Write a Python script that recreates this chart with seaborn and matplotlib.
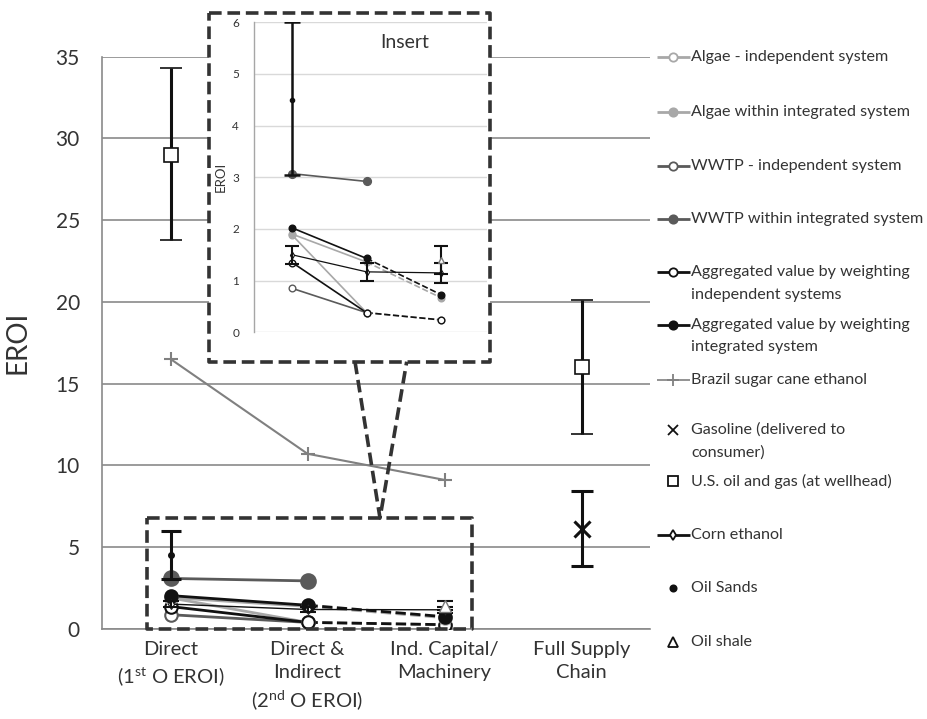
import matplotlib
matplotlib.use("Agg")
import matplotlib.pyplot as plt
import seaborn as sns
import numpy as np

# ---------------- data ----------------
categories = ["Direct\n(1$^{\\mathregular{st}}$ O EROI)",
              "Direct &\nIndirect\n(2$^{\\mathregular{nd}}$ O EROI)",
              "Ind. Capital/\nMachinery",
              "Full Supply\nChain"]
main_yticks = [0, 5, 10, 15, 20, 25, 30, 35]
inset_yticks = [0, 1, 2, 3, 4, 5, 6]

algae_indep = [1.88, 0.38, 0.24]
algae_integ = [1.90, 1.36, 0.67]
wwtp_indep = [0.85, 0.38]
wwtp_integ = [3.07, 2.92]
agg_indep = [1.35, 0.38, 0.24]
agg_integ = [2.02, 1.43, 0.73]
corn = [1.50, 1.17, 1.15]
corn_err = [0.18, 0.17, 0.19]
brazil = [16.5, 10.7, 9.1]
oil_sands_x, oil_sands_y = [0], [4.5]
oil_sands_err_lo, oil_sands_err_hi = [1.45], [1.5]
oil_shale_x, oil_shale_y, oil_shale_err = [2], [1.40], [0.27]
us_oil_x, us_oil_y = [0, 3], [29.0, 16.0]
us_oil_err_lo, us_oil_err_hi = [5.2, 4.1], [5.3, 4.1]
gasoline_x, gasoline_y = [3], [6.1]
gasoline_err_lo, gasoline_err_hi = [2.25], [2.35]

legend_labels = ["Algae - independent system", "Algae within integrated system",
                 "WWTP - independent system", "WWTP within integrated system",
                 "Aggregated value by weighting\nindependent systems",
                 "Aggregated value by weighting\nintegrated system",
                 "Brazil sugar cane ethanol", "Gasoline (delivered to\nconsumer)",
                 "U.S. oil and gas (at wellhead)", "Corn ethanol", "Oil Sands", "Oil shale"]

# ---------------- style ----------------
sns.set_theme(style="white")
plt.rcParams['font.family'] = ['Lato', 'DejaVu Sans']
plt.rcParams['mathtext.fontset'] = 'custom'
plt.rcParams['mathtext.rm'] = 'Lato'

LIGHT = "#a8a8a8"
DARK = "#5a5a5a"
BLACK = "#111111"
BRAZ = "#808080"
GRID = "#8a8a8a"
TXT = "#333333"

W, H = 928, 719
fig = plt.figure(figsize=(W / 100, H / 100), dpi=100)


def fx(px):
    return px / W


def fy(py):
    return 1 - py / H


# main axes
ax = fig.add_axes([fx(102), fy(628.6), fx(650) - fx(102), fy(56.7) - fy(628.6)])
ax.set_xlim(-0.5, 3.5)
ax.set_ylim(0, 35)
ax.set_yticks(main_yticks)
ax.set_xticks(range(len(categories)))
ax.set_xticklabels(categories, fontsize=14.5, color=TXT, linespacing=1.4)
ax.tick_params(axis='x', length=0, pad=9)
ax.tick_params(axis='y', length=5, width=1.2, color=GRID, labelsize=15, labelcolor=TXT, pad=11)
ax.yaxis.grid(True, color=GRID, lw=1.2)
ax.set_axisbelow(True)
for s in ['top', 'right']:
    ax.spines[s].set_visible(False)
ax.spines['left'].set_color(GRID)
ax.spines['left'].set_linewidth(1.2)
ax.spines['bottom'].set_color(GRID)
ax.spines['bottom'].set_linewidth(1.2)
ax.set_ylabel("EROI", fontsize=20, color=TXT, labelpad=18)


def draw_series(a, vals, color, filled, ms, lw, mew, z=3):
    x = list(range(len(vals)))
    sns.lineplot(x=x[:2], y=vals[:2], ax=a, color=color, lw=lw, linestyle='-', zorder=z)
    if len(vals) > 2:
        sns.lineplot(x=x[1:], y=vals[1:], ax=a, color=color, lw=lw, linestyle='--', zorder=z)
    a.plot(x, vals, linestyle='none', marker='o', markersize=ms,
           markerfacecolor=(color if filled else 'white'), markeredgecolor=color,
           markeredgewidth=mew, zorder=z + 0.5)


def draw_all(a, big):
    lw = 2.0 if big else 1.2
    ms = 9 if big else 4.8
    mew = 1.5 if big else 1.0
    if big:
        sns.lineplot(x=list(range(len(brazil))), y=brazil, ax=a, color=BRAZ, lw=1.5,
                     marker='+', markersize=10, markeredgecolor=BRAZ, markeredgewidth=1.5, zorder=3)
    draw_series(a, wwtp_indep, DARK, False, ms, lw, mew)
    draw_series(a, algae_indep, LIGHT, False, ms, lw, mew)
    draw_series(a, agg_indep, BLACK, False, ms, lw, mew)
    draw_series(a, algae_integ, LIGHT, True, ms, lw, mew)
    draw_series(a, agg_integ, BLACK, True, ms, lw, mew)
    draw_series(a, wwtp_integ, DARK, True, ms + (1.5 if big else 0.8), lw, mew)
    # corn ethanol
    sns.lineplot(x=list(range(len(corn))), y=corn, ax=a, color=BLACK, lw=1.0 if big else 0.9,
                 marker='d', markersize=5 if big else 3.5, markerfacecolor='white',
                 markeredgecolor=BLACK, markeredgewidth=0.8, zorder=4)
    a.errorbar(range(len(corn)), corn, yerr=corn_err, fmt='none', ecolor=BLACK,
               elinewidth=1.5, capsize=6 if big else 5, capthick=1.5, zorder=4)
    # oil sands
    a.errorbar(oil_sands_x, oil_sands_y, yerr=[oil_sands_err_lo, oil_sands_err_hi], fmt='o',
               color=BLACK, markersize=4 if big else 3, elinewidth=2.2 if big else 1.8,
               capsize=7 if big else 6, capthick=2.2 if big else 1.8, zorder=5)
    # oil shale
    a.errorbar(oil_shale_x, oil_shale_y, yerr=oil_shale_err, fmt='^', color=BLACK,
               markerfacecolor='white', markeredgecolor='#777777', markersize=8 if big else 4.5,
               elinewidth=1.5, capsize=6 if big else 5, capthick=1.5, zorder=5)


draw_all(ax, True)

# US oil and gas
ax.errorbar(us_oil_x, us_oil_y, yerr=[us_oil_err_lo, us_oil_err_hi], fmt='s', color=BLACK,
            markerfacecolor='white', markeredgecolor=BLACK, markeredgewidth=1.2, markersize=10,
            elinewidth=2.2, capsize=8, capthick=2.2, zorder=5)
# gasoline
ax.errorbar(gasoline_x, gasoline_y, yerr=[gasoline_err_lo, gasoline_err_hi], fmt='x', color=BLACK,
            markersize=11, markeredgewidth=2.2, elinewidth=2.2, capsize=8, capthick=2.2, zorder=5)

# ---------------- inset ----------------
bg = fig.add_axes([fx(209), fy(361.7), fx(490) - fx(209), fy(12.7) - fy(361.7)], zorder=2)
bg.set_facecolor('white')
bg.set_xticks([]); bg.set_yticks([])
for s in bg.spines.values():
    s.set_visible(False)

ins = fig.add_axes([fx(254.3), fy(332.3), fx(487) - fx(254.3), fy(22.3) - fy(332.3)], zorder=3)
ins.set_facecolor('none')
ins.set_xlim(-0.51, 2.62)
ins.set_ylim(0, 6)
ins.set_yticks(inset_yticks)
ins.set_xticks([])
ins.yaxis.grid(True, color="#d9d9d9", lw=1.0)
ins.set_axisbelow(True)
for s in ['top', 'right', 'bottom']:
    ins.spines[s].set_visible(False)
ins.spines['left'].set_color("#a6a6a6")
ins.spines['left'].set_linewidth(1.0)
ins.tick_params(axis='y', length=0, labelsize=8.5, labelcolor=TXT, pad=11)
ins.set_ylabel("EROI", fontsize=9.5, color=TXT, labelpad=4)
draw_all(ins, False)
ins.text(0.645, 0.935, "Insert", transform=ins.transAxes, fontsize=14, color=TXT, ha='center', va='center')

# ---------------- overlay: boxes, connectors, legend ----------------
ov = fig.add_axes([0, 0, 1, 1], zorder=10)
ov.set_xlim(0, W)
ov.set_ylim(H, 0)
ov.axis('off')
dash = dict(color='#333333', lw=2.6, linestyle=(0, (3.5, 1.6)))
ov.plot([209, 490, 490, 209, 209], [12.7, 12.7, 361.7, 361.7, 12.7], **dash)
ov.plot([147, 472, 472, 147, 147], [518, 518, 629, 629, 518], **dash)
ov.plot([355, 380, 406.7], [361.7, 518, 361.7], **dash)

leg_y = [57, 112, 166, 219, 272, 325, 380, 430, 481, 535, 588, 642]
styles = [
    dict(line=LIGHT, marker='o', mfc='white', mec=LIGHT, ms=6),
    dict(line=LIGHT, marker='o', mfc=LIGHT, mec=LIGHT, ms=6),
    dict(line=DARK, marker='o', mfc='white', mec=DARK, ms=6),
    dict(line=DARK, marker='o', mfc=DARK, mec=DARK, ms=6),
    dict(line=BLACK, marker='o', mfc='white', mec=BLACK, ms=6),
    dict(line=BLACK, marker='o', mfc=BLACK, mec=BLACK, ms=6),
    dict(line=BRAZ, marker='+', mfc=BRAZ, mec=BRAZ, ms=8, lw=1.2),
    dict(line=None, marker='x', mfc=BLACK, mec=BLACK, ms=7),
    dict(line=None, marker='s', mfc='white', mec=BLACK, ms=7),
    dict(line=BLACK, marker='d', mfc='white', mec=BLACK, ms=5),
    dict(line=None, marker='o', mfc=BLACK, mec=BLACK, ms=4.5),
    dict(line=None, marker='^', mfc='white', mec=BLACK, ms=7),
]
for y, lab, st in zip(leg_y, legend_labels, styles):
    if st['line'] is not None:
        ov.plot([657, 690], [y, y], color=st['line'], lw=st.get('lw', 2.0), solid_capstyle='butt')
    ov.plot([673], [y], marker=st['marker'], markersize=st['ms'], markerfacecolor=st['mfc'],
            markeredgecolor=st['mec'], markeredgewidth=1.3, linestyle='none')
    for k, line in enumerate(lab.split("\n")):
        ov.text(691, y + k * 22.5, line, fontsize=11.6, color=TXT, ha='left', va='center')

fig.savefig("out.png", dpi=100)
